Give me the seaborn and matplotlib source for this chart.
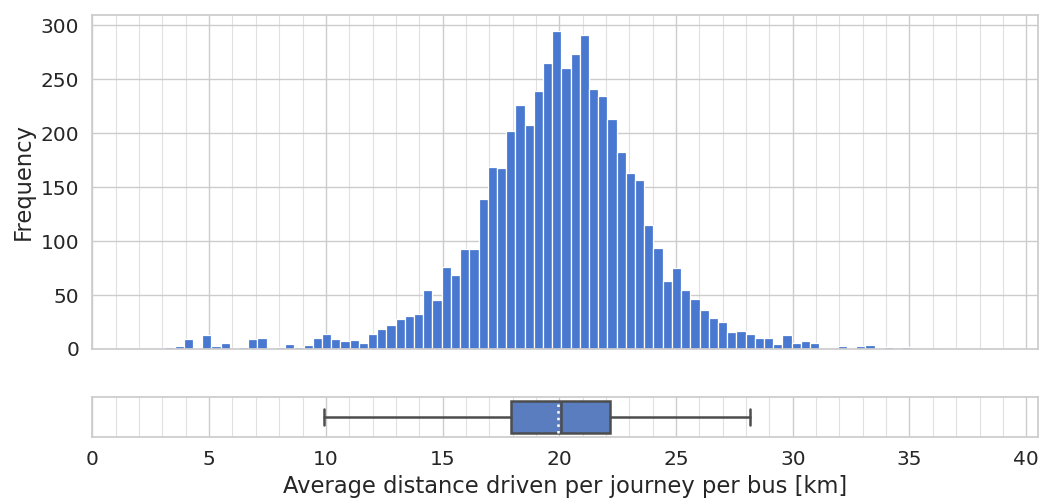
import numpy as np
import pandas as pd
import matplotlib
matplotlib.use("Agg")
import matplotlib.pyplot as plt
import seaborn as sns
from matplotlib.ticker import MultipleLocator

# histogram counts per bin (100 bins)
bin_start = 0.364
bin_width = 0.3945
counts = [1, 0, 1, 0, 1, 1, 1, 2, 3, 9,
          1, 13, 3, 6, 1, 2, 9, 10, 1, 2,
          5, 2, 4, 10, 14, 9, 7, 8, 6, 14,
          19, 22, 28, 31, 32, 55, 45, 76, 69, 93,
          93, 139, 169, 168, 202, 226, 208, 239, 265, 295,
          261, 274, 291, 241, 235, 213, 183, 163, 157, 115,
          94, 63, 75, 55, 46, 36, 29, 25, 16, 17,
          14, 10, 10, 5, 13, 6, 7, 6, 1, 1,
          3, 1, 3, 4, 1, 2, 0, 2, 1, 1,
          0, 1, 1, 0, 1, 0, 0, 1, 0, 1]

# box plot summary
box_q1 = 17.94
box_median = 20.08
box_q3 = 22.18
box_mean = 19.94
whisker_low = 9.92
whisker_high = 28.18

x_ticks = [0, 5, 10, 15, 20, 25, 30, 35, 40]
y_ticks = [0, 50, 100, 150, 200, 250, 300]

sns.set_theme(style="whitegrid", palette="muted")
plt.rcParams["font.family"] = ["DejaVu Sans"]

edges = bin_start + bin_width * np.arange(len(counts) + 1)
hist_df = pd.DataFrame({"dist": (edges[:-1] + edges[1:]) / 2,
                        "n": counts})

fig = plt.figure(figsize=(10.43, 5.01), dpi=100)
ax_hist = fig.add_axes([0.0886, 0.3034, 0.9065, 0.6667])
ax_box = fig.add_axes([0.0886, 0.1277, 0.9065, 0.0798], sharex=ax_hist)

blue = sns.color_palette("muted")[0]
sns.histplot(data=hist_df, x="dist", weights="n", bins=edges.tolist(),
             color=blue, alpha=1, edgecolor="white", linewidth=0.9,
             ax=ax_hist)
ax_hist.set_ylabel("Frequency", fontsize=16.3)
ax_hist.set_xlabel("")
ax_hist.set_yticks(y_ticks)
ax_hist.tick_params(axis="y", labelsize=14.5)
plt.setp(ax_hist.get_xticklabels(), visible=False)

stats = [{"med": box_median, "q1": box_q1, "q3": box_q3, "mean": box_mean,
          "whislo": whisker_low, "whishi": whisker_high, "fliers": []}]
line_col = "#4d4d4d"
ax_box.bxp(stats, positions=[0], widths=0.8, orientation="horizontal",
           patch_artist=True, showfliers=False, showmeans=True, meanline=True,
           boxprops=dict(facecolor=sns.desaturate(blue, 0.75),
                         edgecolor=line_col, linewidth=1.8),
           whiskerprops=dict(color=line_col, linewidth=1.8),
           capprops=dict(color=line_col, linewidth=1.8),
           medianprops=dict(color=line_col, linewidth=1.8),
           meanprops=dict(color="white", linestyle=":", linewidth=1.8))
ax_box.set_ylim(-0.5, 0.5)
ax_box.set_yticks([])
ax_box.grid(False, axis="y")
ax_box.set_xlabel("Average distance driven per journey per bus [km]",
                  fontsize=16.3)
ax_box.tick_params(axis="x", labelsize=14.5)

for ax in (ax_hist, ax_box):
    ax.set_xlim(0, 40.5)
    ax.set_xticks(x_ticks)
    ax.xaxis.set_minor_locator(MultipleLocator(1))
    ax.grid(which="minor", axis="x", color="0.88", linewidth=0.8)
    ax.tick_params(which="minor", length=0)
    ax.set_axisbelow(True)

fig.savefig("out.png", dpi=100)
